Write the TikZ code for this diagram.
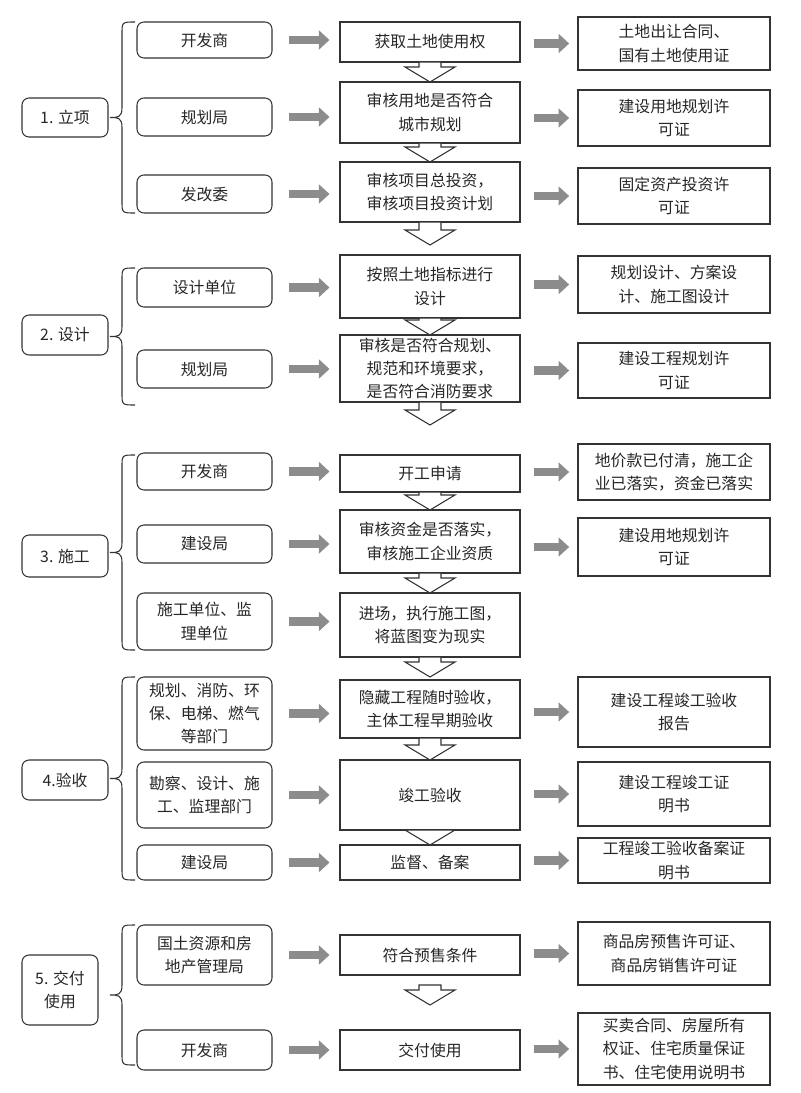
\documentclass[tikz,border=0pt]{standalone}
\usepackage{fontspec}
\setmainfont{Noto Sans CJK SC}
\usetikzlibrary{arrows.meta}
\begin{document}
\begin{tikzpicture}[x=0.03cm,y=-0.03cm,
  base/.style={draw=black!80,line width=0.9pt,align=center,inner sep=1pt,
    font=\fontsize{13.5}{20}\selectfont,text=black!85},
  rb/.style={base,rounded corners=6pt},
  sb/.style={base},
  garr/.style={draw=black!45,line width=7pt,-{Triangle[length=9pt,width=16pt]},shorten <=0.5cm,shorten >=0.3cm},
  darr/.style={draw=black!80,line width=0.9pt,fill=white},
  brc/.style={draw=black!80,line width=0.9pt}]
\useasboundingbox (0,0) rectangle (800,1093);
\newcommand\bx[7]{\node[#7,minimum width={(#4-#2)*0.03cm},minimum height={(#5-#3)*0.03cm}] (#1) at ({(#2+#4)/2},{(#3+#5)/2}) {#6};}
\newcommand\dar[2]{\draw[darr] (419,#1) -- (441,#1) -- (441,{#2-15}) -- (455,{#2-15}) -- (430,#2) -- (405,{#2-15}) -- (419,{#2-15}) -- cycle;}
\newcommand\mybrace[2]{\draw[brc] (135,#1) .. controls (122,#1) and (122,#1) .. (122,{#1+12}) -- (122,{(#1+#2)/2-10}) .. controls (122,{(#1+#2)/2}) and (118,{(#1+#2)/2}) .. (110,{(#1+#2)/2}) .. controls (118,{(#1+#2)/2}) and (122,{(#1+#2)/2}) .. (122,{(#1+#2)/2+10}) -- (122,{#2-12}) .. controls (122,#2) and (122,#2) .. (135,#2);}
\newcommand\ga[2]{\draw[garr] (#1.east) -- (#1.east -| #2.west);}
\newcommand\gb[2]{\draw[garr,shorten <=0.4cm,shorten >=0.25cm] (#1.east |- #2.west) -- (#2.west);}
% section 1
\bx{l1}{22}{98}{108}{137}{1. 立项}{rb}
\mybrace{22}{213}
\bx{a11}{137}{22}{272}{58}{开发商}{rb}
\bx{b11}{340}{22}{520}{62}{获取土地使用权}{sb}
\bx{c11}{578}{17}{770}{70}{土地出让合同、\\国有土地使用证}{sb}
\bx{a12}{137}{98}{272}{136}{规划局}{rb}
\bx{b12}{340}{82}{520}{143}{审核用地是否符合\\城市规划}{sb}
\bx{c12}{578}{90}{770}{146}{建设用地规划许\\可证}{sb}
\bx{a13}{137}{175}{272}{213}{发改委}{rb}
\bx{b13}{340}{162}{520}{222}{审核项目总投资，\\审核项目投资计划}{sb}
\bx{c13}{578}{168}{770}{224}{固定资产投资许\\可证}{sb}
\dar{62}{82}\dar{143}{162}\dar{222}{245}
% section 2
\bx{l2}{22}{315}{108}{355}{2. 设计}{rb}
\mybrace{268}{405}
\bx{a21}{137}{268}{272}{307}{设计单位}{rb}
\bx{b21}{340}{255}{520}{318}{按照土地指标进行\\设计}{sb}
\bx{c21}{578}{256}{770}{313}{规划设计、方案设\\计、施工图设计}{sb}
\bx{a22}{137}{350}{272}{388}{规划局}{rb}
\bx{b22}{340}{335}{520}{402}{审核是否符合规划、\\规范和环境要求，\\是否符合消防要求}{sb}
\bx{c22}{578}{343}{770}{398}{建设工程规划许\\可证}{sb}
\dar{318}{335}\dar{402}{425}
% section 3
\bx{l3}{22}{535}{108}{577}{3. 施工}{rb}
\mybrace{455}{650}
\bx{a31}{137}{453}{272}{490}{开发商}{rb}
\bx{b31}{340}{455}{520}{492}{开工申请}{sb}
\bx{c31}{578}{444}{770}{500}{地价款已付清，施工企\\业已落实，资金已落实}{sb}
\bx{a32}{137}{525}{272}{563}{建设局}{rb}
\bx{b32}{340}{510}{520}{573}{审核资金是否落实，\\审核施工企业资质}{sb}
\bx{c32}{578}{518}{770}{576}{建设用地规划许\\可证}{sb}
\bx{a33}{137}{593}{272}{650}{施工单位、监\\理单位}{rb}
\bx{b33}{340}{593}{520}{657}{进场，执行施工图，\\将蓝图变为现实}{sb}
\dar{492}{510}\dar{573}{593}\dar{657}{677}
% section 4
\bx{l4}{22}{760}{108}{800}{4.验收}{rb}
\mybrace{677}{880}
\bx{a41}{137}{677}{272}{750}{规划、消防、环\\保、电梯、燃气\\等部门}{rb}
\bx{b41}{340}{680}{520}{738}{隐藏工程随时验收，\\主体工程早期验收}{sb}
\bx{c41}{578}{677}{770}{747}{建设工程竣工验收\\报告}{sb}
\bx{a42}{137}{762}{272}{828}{勘察、设计、施\\工、监理部门}{rb}
\bx{b42}{340}{760}{520}{830}{竣工验收}{sb}
\bx{c42}{578}{762}{770}{826}{建设工程竣工证\\明书}{sb}
\bx{a43}{137}{845}{272}{880}{建设局}{rb}
\bx{b43}{340}{845}{520}{880}{监督、备案}{sb}
\bx{c43}{578}{838}{770}{883}{工程竣工验收备案证\\明书}{sb}
\dar{738}{760}\dar{830}{845}
% section 5
\bx{l5}{22}{955}{98}{1025}{5. 交付\\使用}{rb}
\mybrace{925}{1065}
\bx{a51}{137}{925}{272}{985}{国土资源和房\\地产管理局}{rb}
\bx{b51}{340}{935}{520}{975}{符合预售条件}{sb}
\bx{c51}{578}{922}{770}{985}{商品房预售许可证、\\商品房销售许可证}{sb}
\bx{a52}{137}{1030}{272}{1070}{开发商}{rb}
\bx{b52}{340}{1030}{520}{1070}{交付使用}{sb}
\bx{c52}{578}{1013}{770}{1085}{买卖合同、房屋所有\\权证、住宅质量保证\\书、住宅使用说明书}{sb}
\dar{985}{1005}
% gray arrows
\foreach \r in {11,12,13,21,22,31,32,33,41,42,43,51,52}{\ga{a\r}{b\r}}
\foreach \r in {11,12,13,21,22,31,32,41,42,43,51,52}{\gb{b\r}{c\r}}
\end{tikzpicture}
\end{document}
